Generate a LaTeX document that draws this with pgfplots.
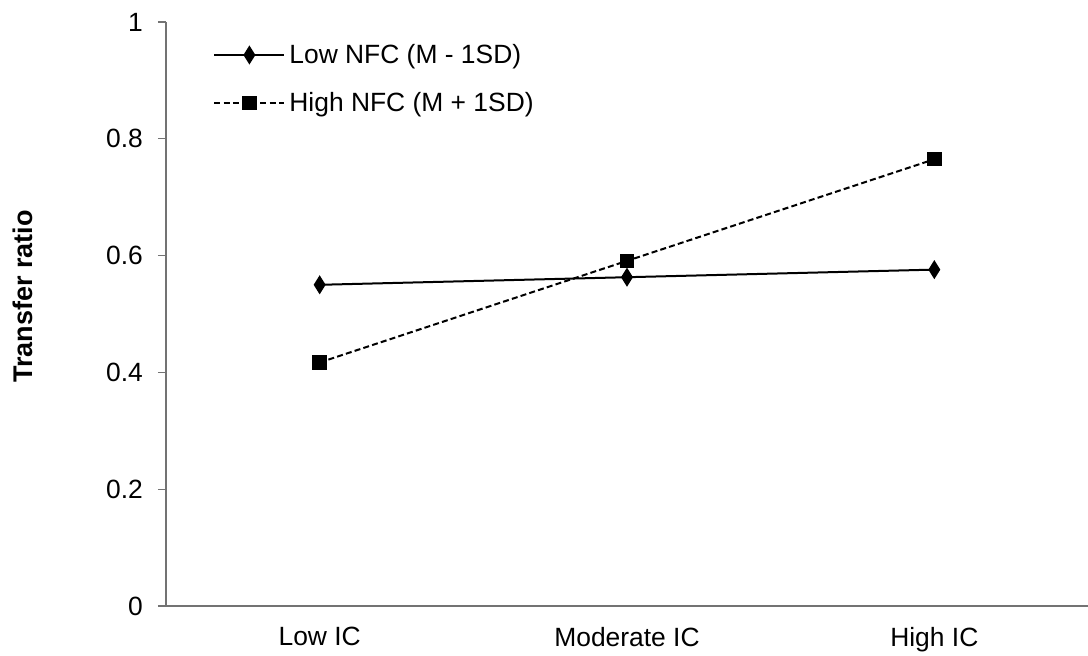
\documentclass[border=0pt]{standalone}
\usepackage{pgfplots}
\pgfplotsset{compat=1.18}
\usepackage{fontspec}
\setmainfont{Liberation Sans}
\begin{document}
\begin{tikzpicture}
\begin{axis}[
  at={(0,0)}, anchor=south west,
  scale only axis,
  width=461pt, height=292pt,
  xmin=-0.5, xmax=2.5, ymin=0, ymax=1,
  axis lines*=left,
  axis line style={draw=gray!90!black, line width=0.6pt},
  xtick={0,1,2},
  xticklabels={Low IC, Moderate IC, High IC},
  xtick style={draw=none},
  ytick={0,0.2,0.4,0.6,0.8,1},
  yticklabels={0,0.2,0.4,0.6,0.8,1},
  ytick style={draw=gray!90!black, line width=0.6pt},
  tick align=outside,
  major tick length=4pt,
  ticklabel style={font=\fontsize{13.2}{15}\selectfont},
  yticklabel style={xshift=-4pt},
  xticklabel style={yshift=-3pt},
  ylabel={\textbf{Transfer ratio}},
  ylabel style={font=\fontsize{13.5}{16}\selectfont, at={(axis description cs:-0.155,0.53)}, anchor=center},
  legend style={draw=none, fill=none, at={(0.051,0.97)}, anchor=north west,
    font=\fontsize{13.2}{15}\selectfont, row sep=9pt, inner sep=0pt},
  legend cell align=left,
  legend image code/.code={
    \draw[mark repeat=2, mark phase=2, #1] plot coordinates {(0pt,0pt) (17.5pt,0pt) (35pt,0pt)};
  },
]
\addplot[black, line width=1pt, mark=diamond*, mark size=3.2pt, mark options={solid, fill=black, yscale=1.2}]
  coordinates {(0,0.550) (1,0.563) (2,0.576)};
\addlegendentry{Low NFC (M - 1SD)}
\addplot[black, line width=1pt, dash pattern=on 3pt off 1.6pt, mark=square*, mark size=3.1pt, mark options={solid, fill=black}]
  coordinates {(0,0.417) (1,0.591) (2,0.765)};
\addlegendentry{High NFC (M + 1SD)}
\end{axis}
\pgfresetboundingbox
\path (-83pt,-24.5pt) rectangle (461pt,303pt);
\end{tikzpicture}
\end{document}
